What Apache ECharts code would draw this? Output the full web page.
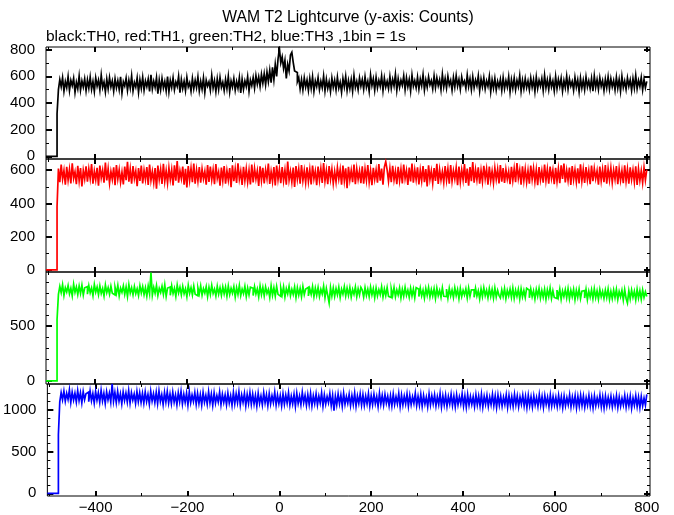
<!DOCTYPE html>
<html><head><meta charset="utf-8">
<script src="https://cdn.jsdelivr.net/npm/echarts@6/dist/echarts.min.js"></script>
<style>html,body{margin:0;padding:0;background:#fff}#c{width:674px;height:515px}</style>
</head><body><div id="c"></div>
<script>
const titleText = 'WAM T2 Lightcurve (y-axis: Counts)';
const subtitleText = 'black:TH0, red:TH1, green:TH2, blue:TH3 ,1bin = 1s';
const binStart = -505;
const binWidth = 3;

const th0 = [0,0,0,0,0,0,0,0,320,
500,575,522,590,488,561,515,598,494,570,530,585,479,556,508,602,497,566,519,581,
492,573,511,594,503,562,486,588,526,571,498,609,517,558,484,579,506,591,521,565,
489,582,514,567,501,597,475,560,528,586,495,571,512,603,490,555,519,588,481,574,
510,593,496,566,523,580,487,612,505,563,518,590,470,572,499,584,513,561,492,598,
484,569,517,589,500,557,525,600,478,576,509,563,494,592,521,552,488,583,507,570,
515,595,491,562,504,587,480,571,527,559,496,606,513,568,486,581,502,592,518,556,
493,576,508,599,485,565,520,583,497,561,511,590,476,578,503,566,524,597,489,572,
530,590,512,605,540,596,525,615,548,620,537,632,560,645,552,668,575,690,600,730,
810,700,745,660,720,585,690,640,760,780,705,640,628,560,590,505,575,498,588,520,
572,495,584,510,596,488,566,523,590,501,563,515,602,492,578,509,560,486,587,517,
571,498,593,512,556,480,584,521,599,494,568,507,576,489,605,516,562,500,588,526,
575,503,597,519,564,488,610,530,581,497,592,514,570,525,601,493,586,520,563,508,
598,511,577,528,615,496,583,517,571,533,603,500,589,522,576,491,608,526,567,514,
594,505,580,529,612,498,573,519,596,535,568,507,602,516,588,530,575,499,614,521,
583,512,600,534,570,496,591,520,606,527,577,503,595,538,565,510,609,524,581,501,
596,515,572,530,603,492,580,521,589,506,566,525,598,486,574,511,585,497,562,519,
577,494,591,508,568,520,597,483,575,512,586,500,569,523,604,489,571,507,583,516,
565,499,588,518,576,487,594,510,570,526,583,495,607,514,573,501,589,521,566,492,
598,508,578,523,586,490,569,515,601,504,580,527,562,496,592,519,574,485,587,512,
571,500,595,520,567,509,584,488,603,516,575,502,590,525,568,493,579,514,596,506,
582,521,569,498,593,511,577,489,600,517,565,503,588,526,573,495,584,512,606,508,570,524,591,499,578,515,562];

const th1 = [0,0,0,0,0,0,0,0,380,
610,528,633,545,598,512,620,540,605,520,641,551,590,515,626,536,612,502,598,547,
623,530,607,548,636,519,594,541,614,506,628,553,600,525,645,538,609,521,592,544,
617,509,630,546,603,527,588,514,621,540,650,531,606,518,624,549,595,504,612,535,
628,520,599,543,619,511,634,538,592,526,613,489,627,545,605,517,638,533,597,522,
614,542,603,508,629,536,655,524,596,549,621,513,608,496,625,539,611,527,640,518,
601,534,618,525,607,547,593,512,631,529,622,541,602,516,636,550,589,507,615,537,
624,519,597,540,612,498,629,533,606,523,641,545,594,511,620,537,608,528,599,514,
633,526,610,547,596,505,623,538,614,520,602,549,639,517,591,531,618,508,627,543,
605,521,619,535,600,513,652,540,593,528,616,499,624,546,607,519,630,537,598,525,
617,532,603,514,628,548,595,510,621,539,609,523,642,534,598,516,625,545,606,520,
592,530,615,547,604,512,627,536,611,491,620,541,599,527,634,515,608,544,596,522,
623,518,606,539,631,528,597,509,614,545,601,524,637,536,610,513,618,651,602,533,
609,527,626,541,594,516,620,537,605,520,633,549,598,511,616,532,640,525,603,543,
617,514,600,536,625,528,607,502,629,544,596,521,613,535,638,517,604,540,592,526,
624,539,608,518,631,533,597,547,615,510,622,529,601,541,636,523,610,506,619,534,
648,525,603,542,617,519,599,531,626,548,607,513,621,537,595,524,614,545,605,520,
630,531,612,523,604,546,593,515,620,538,609,527,642,550,601,512,623,536,607,528,
597,519,628,544,611,530,603,509,618,541,596,524,633,537,606,518,622,549,600,515,
614,532,608,521,629,547,640,526,599,538,616,511,624,543,602,529,611,520,635,535,
605,523,619,540,598,516,627,533,610,548,596,512,621,536,604,527,631,519,609,541,
613,526,600,545,624,515,607,538,597,521,629,534,606,518,617,543,601,528,623,511,608,537,596,524,615,540,603];

const th2 = [0,0,0,0,0,0,0,0,560,
790,862,805,878,780,851,812,870,795,845,776,883,808,858,789,866,799,874,784,850,
861,792,870,804,848,779,881,810,856,787,867,798,843,775,876,806,852,791,864,800,
785,855,799,872,776,846,808,867,790,858,771,879,801,849,786,862,797,841,780,869,
803,861,788,850,774,866,795,990,782,853,800,871,779,845,807,864,790,877,772,848,
858,781,869,797,846,772,875,803,854,786,862,795,840,768,873,800,851,784,866,791,
777,850,796,868,783,843,802,861,770,855,789,872,798,838,775,864,792,849,781,859,
795,857,774,866,788,845,801,860,767,851,790,872,779,838,796,863,771,848,785,856,
846,779,861,794,840,768,866,787,853,776,858,798,835,763,869,782,850,773,862,790,
772,848,787,859,765,842,794,864,778,836,790,857,761,851,783,845,770,862,788,839,
855,776,840,789,861,768,847,782,853,771,836,793,866,760,844,781,712,852,774,849,
771,843,786,855,762,838,792,860,775,847,781,852,766,834,790,858,769,841,784,853,
829,764,851,780,837,770,856,785,842,759,848,776,833,788,860,767,839,779,852,772,
762,840,779,853,768,831,784,849,757,836,773,855,781,828,764,846,776,838,759,851,
836,770,848,777,829,756,843,781,852,766,833,775,841,753,847,779,826,764,850,772,
769,838,755,845,776,829,762,850,780,834,751,843,771,827,785,840,758,848,773,831,
832,763,846,775,823,749,840,769,851,778,828,758,843,772,835,755,848,766,826,781,
757,831,770,843,751,826,776,838,763,847,754,829,772,836,749,841,768,825,761,846,
828,759,840,768,822,747,835,773,844,756,826,765,837,745,831,770,848,754,823,762,
752,829,766,838,745,821,770,833,758,842,749,826,768,835,741,827,763,839,751,818,
825,756,836,742,819,764,831,750,840,759,822,746,834,767,817,753,829,761,838,744,
818,751,829,760,835,744,816,768,827,739,833,755,712,822,748,830,763,819,740,836,757,824,746,831,762,814,770];

const th3 = [0,0,0,0,0,0,0,0,700,
1095,1205,1118,1222,1101,1196,1124,1238,1087,1210,1115,1199,1092,1228,1110,1203,1083,1217,1121,1191,
1212,1097,1226,1108,1193,1080,1219,1114,1204,1089,1233,1106,1197,1075,1215,1119,1200,1093,1310,1102,
1208,1085,1221,1102,1190,1071,1215,1110,1199,1093,1229,1080,1205,1116,1187,1076,1218,1098,1203,1088,
1196,1079,1213,1097,1184,1068,1222,1104,1191,1085,1209,1073,1226,1099,1180,1063,1207,1092,1217,1081,
1188,1074,1210,1091,1178,1060,1203,1096,1221,1070,1185,1089,1199,1057,1214,1084,1176,1098,1206,1066,
1195,1075,1181,1058,1208,1090,1173,1067,1216,1083,1188,1054,1202,1079,1170,1093,1211,1062,1184,1087,
1176,1061,1199,1080,1168,1052,1207,1073,1190,1085,1214,1058,1177,1088,1196,1049,1183,1076,1204,1066,
1187,1069,1171,1045,1198,1077,1165,1059,1205,1082,1179,1050,1193,1071,1168,1086,1211,1056,1176,1073,
1169,1048,1190,1066,1176,1079,1203,1055,1162,1070,1185,1042,1197,1075,1164,1061,1208,1083,1172,1052,
1180,1063,1195,1046,1168,1074,1189,1057,1163,1080,1201,1044,1176,1068,1159,1085,1193,1051,1170,990,
1162,1058,1188,1071,1174,1043,1196,1066,1159,1079,1183,1050,1170,1064,1200,1041,1166,1076,1190,1055,
1179,1052,1163,1070,1192,1045,1168,1061,1185,1073,1158,1040,1196,1067,1171,1057,1183,1078,1161,1048,
1168,1046,1187,1063,1157,1072,1193,1039,1175,1058,1163,1070,1189,1044,1172,1061,1155,1076,1197,1050,
1160,1054,1182,1041,1171,1066,1150,1037,1189,1059,1167,1071,1178,1046,1156,1063,1193,1035,1165,1057,
1174,1042,1158,1068,1185,1051,1162,1036,1177,1060,1153,1070,1190,1045,1166,1032,1181,1056,1159,1065,
1155,1039,1179,1058,1164,1047,1186,1033,1160,1066,1172,1042,1151,1061,1183,1050,1167,1029,1176,1055,
1162,1044,1150,1063,1178,1031,1169,1052,1156,1040,1184,1059,1165,1036,1153,1067,1174,1046,1160,1027,
1171,1049,1155,1034,1166,1058,1147,1041,1180,1053,1159,1030,1169,1062,1150,1037,1176,1045,1157,1055,
1148,1038,1170,1051,1156,1026,1164,1047,1143,1060,1177,1035,1152,1054,1168,1023,1159,1043,1173,1049,
1163,1032,1145,1055,1171,1040,1150,1024,1166,1048,1141,1057,1174,1036,1155,1021,1162,1045,1147,1052,
1160,1035,1144,1050,1168,1028,1152,1043,1137,1056,1171,1031,1149,1046,1163,1020,1141,1053,1166,1038,1150,1026,1158,1047,1139,1055,1185];

const xMajorTicks = [-400, -200, 0, 200, 400, 600, 800];
const xMinorTicks = [-500, -300, -100, 100, 300, 500, 700];
const yMajorTicks = [[0, 200, 400, 600, 800], [0, 200, 400, 600], [0, 500], [0, 500, 1000]];
const yMinorTicks = [[100, 300, 500, 700], [100, 300, 500], [100, 200, 300, 400, 600, 700, 800, 900], [100, 200, 300, 400, 600, 700, 800, 900, 1100, 1200]];

const seriesList = [th0, th1, th2, th3];
const colors = ['#000000', '#ff0000', '#00ff00', '#0000ff'];
const yMins = [-20, -13, -28, -32];
const yMaxs = [820, 667, 994, 1308];
const gridTops = [47, 159, 272, 384];
const gridHeights = [112, 113, 112, 112];

const FONT = 'Liberation Sans, Arial, Helvetica, sans-serif';
const fmt = v => (v < 0 ? '\u2212' + (-v) : String(v));

const grids = [], xAxes = [], yAxes = [], series = [];
for (let g = 0; g < 4; g++) {
  grids.push({left: 46, width: 604, top: gridTops[g], height: gridHeights[g], show: true,
    borderColor: '#000', borderWidth: 1, backgroundColor: 'rgba(0,0,0,0)', containLabel: false});
  const xBase = {gridIndex: g, type: 'value', min: -505, max: 807,
    axisLine: {show: false, onZero: false}, splitLine: {show: false}};
  xAxes.push(Object.assign({}, xBase, {position: 'bottom',
    axisTick: {inside: true, length: 5, customValues: xMajorTicks, lineStyle: {color: '#000', width: 2}},
    axisLabel: {show: g === 3, customValues: xMajorTicks, formatter: fmt, color: '#000', fontSize: 15, fontFamily: FONT, margin: 4}}));
  xAxes.push(Object.assign({}, xBase, {position: 'bottom',
    axisTick: {inside: true, length: 3, customValues: xMinorTicks, lineStyle: {color: '#000', width: 1}},
    axisLabel: {show: false}}));
  xAxes.push(Object.assign({}, xBase, {position: 'top',
    axisTick: {inside: true, length: 5, customValues: xMajorTicks, lineStyle: {color: '#000', width: 2}},
    axisLabel: {show: false}}));
  xAxes.push(Object.assign({}, xBase, {position: 'top',
    axisTick: {inside: true, length: 3, customValues: xMinorTicks, lineStyle: {color: '#000', width: 1}},
    axisLabel: {show: false}}));
  const yBase = {gridIndex: g, type: 'value', min: yMins[g], max: yMaxs[g],
    axisLine: {show: false, onZero: false}, splitLine: {show: false}};
  yAxes.push(Object.assign({}, yBase, {position: 'left',
    axisTick: {inside: true, length: 6, customValues: yMajorTicks[g], lineStyle: {color: '#000', width: 2}},
    axisLabel: {customValues: yMajorTicks[g], formatter: fmt, color: '#000', fontSize: 15, fontFamily: FONT, margin: 11}}));
  yAxes.push(Object.assign({}, yBase, {position: 'left',
    axisTick: {inside: true, length: 3, customValues: yMinorTicks[g], lineStyle: {color: '#000', width: 1}},
    axisLabel: {show: false}}));
  yAxes.push(Object.assign({}, yBase, {position: 'right',
    axisTick: {inside: true, length: 6, customValues: yMajorTicks[g], lineStyle: {color: '#000', width: 2}},
    axisLabel: {show: false}}));
  yAxes.push(Object.assign({}, yBase, {position: 'right',
    axisTick: {inside: true, length: 3, customValues: yMinorTicks[g], lineStyle: {color: '#000', width: 1}},
    axisLabel: {show: false}}));
  series.push({type: 'line', xAxisIndex: g * 4, yAxisIndex: g * 4, step: 'end', symbol: 'none', showSymbol: false,
    lineStyle: {color: colors[g], width: 1.7, join: 'miter'}, itemStyle: {color: colors[g]}, silent: true, animation: false,
    data: seriesList[g].map((v, i) => [binStart + binWidth * i, v])});
}

const chart = echarts.init(document.getElementById('c'), null, {renderer: 'canvas'});
chart.setOption({
  animation: false,
  backgroundColor: '#fff',
  title: [
    {text: titleText, left: 348, top: 10, textAlign: 'center',
      textStyle: {fontSize: 15.7, fontWeight: 'normal', color: '#000', fontFamily: FONT}, padding: 0},
    {text: subtitleText, left: 46, top: 29,
      textStyle: {fontSize: 15.5, fontWeight: 'normal', color: '#000', fontFamily: FONT}, padding: 0}
  ],
  grid: grids, xAxis: xAxes, yAxis: yAxes, series: series
});
</script></body></html>
